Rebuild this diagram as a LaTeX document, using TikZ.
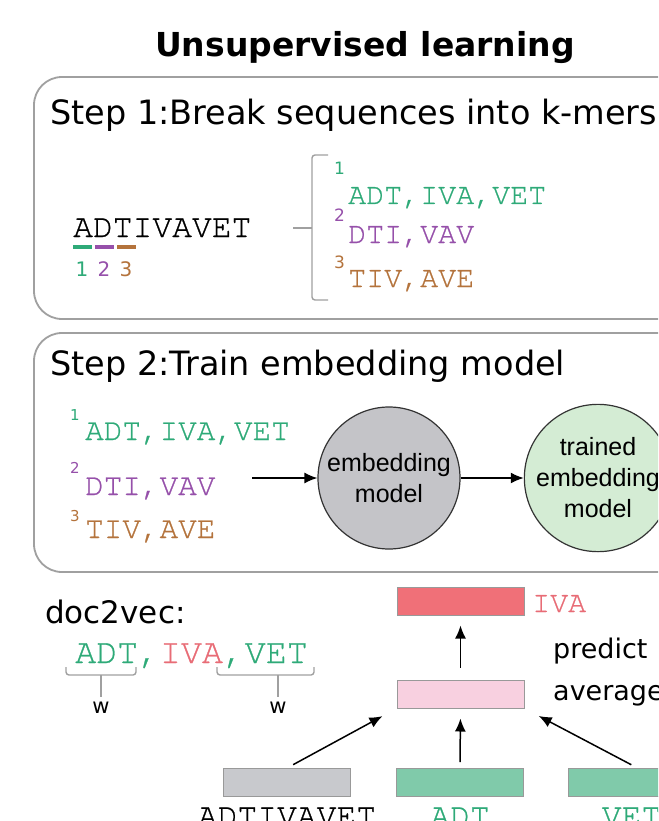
\documentclass[tikz,border=0pt]{standalone}
\usepackage{fontspec}
\setsansfont{DejaVu Sans}
\setmonofont{texgyrecursor-regular.otf}[FakeBold=0.8]
\newfontfamily\arialfont{Liberation Sans}
\usetikzlibrary{arrows.meta,positioning}
\definecolor{kgreen}{RGB}{46,170,120}
\definecolor{kpurple}{RGB}{150,80,170}
\definecolor{kbrown}{RGB}{180,115,60}
\definecolor{kred}{RGB}{232,108,118}
\definecolor{redbar}{RGB}{240,112,120}
\definecolor{pinkbar}{RGB}{248,208,224}
\definecolor{greenbar}{RGB}{128,202,170}
\definecolor{graybar}{RGB}{200,201,205}
\definecolor{embgray}{RGB}{196,196,200}
\definecolor{embgreen}{RGB}{212,236,212}
\definecolor{framegray}{RGB}{160,160,160}
\newcommand{\fsz}[1]{\fontsize{#1}{#1}\selectfont}

\begin{document}
\begin{tikzpicture}[x=1pt,y=-1pt,
  frame/.style={draw=framegray,line width=1.8pt,rounded corners=28pt},
  txt/.style={inner sep=0pt,anchor=base west},
  suptxt/.style={txt,font=\sffamily\fsz{17}},
  model/.style={circle,draw=black!80,line width=1.2pt,minimum size=142pt,inner sep=0pt,
    align=center,font=\arialfont\fontsize{25}{31}\selectfont},
  vec/.style={draw=black!40,line width=1pt,minimum width=127pt,minimum height=28pt,inner sep=0pt},
  arr/.style={-{Latex[length=13pt,width=11pt]},line width=1.5pt},
  brk/.style={draw=framegray,line width=1.4pt,rounded corners=3pt}]
  \clip (0,0) rectangle (658,821);
  \fill[white] (0,0) rectangle (658,821);

  \node[anchor=base,font=\sffamily\bfseries\fsz{33}] (title) at (365,57) {Unsupervised learning};
  \draw[frame] (34,77) rectangle (720,319);
  \draw[frame] (34,333) rectangle (720,572);

  \node[txt,font=\sffamily\fsz{33.5}] (s1) at (50,125) {Step 1:Break sequences into k-mers};
  \node[txt,font=\ttfamily\fsz{33}] (seq) at (73,237) {ADTIVAVET};
  \foreach \x/\c/\n in {73/kgreen/1, 95/kpurple/2, 117/kbrown/3}{
    \draw[\c,line width=4pt] (\x,247) -- ++(19,0);
    \node[anchor=base,inner sep=0pt,text=\c,font=\sffamily\fsz{20}] (d\n) at (\x+9,276) {\n};
  }
  \draw[brk] (328,155) -- (312,155) -- (312,300) -- (328,300);
  \draw[brk] (293,228) -- (312,228);
  \foreach \y/\u/\s/\c/\t in {204/175/1/kgreen/{ADT,IVA,VET}, 243/221/2/kpurple/{DTI,VAV}, 287/268/3/kbrown/{TIV,AVE}}{
    \node[suptxt,text=\c] (ka\s) at (334,\u) {\s};
    \node[txt,text=\c,font=\ttfamily\fsz{30}] (kb\s) at (348,\y) {\t};
  }

  \node[txt,font=\sffamily\fsz{33.5}] (s2) at (50,375) {Step 2:Train embedding model};
  \foreach \y/\u/\s/\c/\t in {440/420/1/kgreen/{ADT,IVA,VET}, 495/473/2/kpurple/{DTI,VAV}, 538/521/3/kbrown/{TIV,AVE}}{
    \node[suptxt,text=\c,font=\sffamily\fsz{15}] (ta\s) at (70,\u) {\s};
    \node[txt,text=\c,font=\ttfamily\fsz{31}] (tb\s) at (85,\y) {\t};
  }
  \coordinate (in) at (252,478);
  \node[model,fill=embgray] (emb) at (389,478) {embedding\\model};
  \node[model,fill=embgreen] (trn) at (598,478) {trained\\embedding\\model};
  \draw[arr] (in) -- (emb);
  \draw[arr] (emb) -- (trn);

  \node[txt,font=\sffamily\fsz{31}] (d2v) at (45,623) {doc2vec:};
  \node[txt,font=\ttfamily\fsz{35},text=kgreen] (wadt) at (75,663) {ADT};
  \node[txt,font=\ttfamily\fsz{35},text=kgreen] (wc1) at (wadt.base east) {,};
  \node[txt,font=\ttfamily\fsz{35},text=kred] (wiva) at (wc1.base east) {IVA};
  \node[txt,font=\ttfamily\fsz{35},text=kgreen] (wc2) at (wiva.base east) {,};
  \node[txt,font=\ttfamily\fsz{35},text=kgreen] (wvet) at (wc2.base east) {VET};
  \foreach \a/\b/\m/\n in {66/136/101/1, 217/314/278/2}{
    \draw[brk] (\a,667) -- (\a,675) -- (\b,675) -- (\b,667);
    \draw[brk] (\m,675) -- (\m,697);
    \node[anchor=base,inner sep=0pt,font=\sffamily\fsz{21}] (w\n) at (\m,713) {w};
  }

  \node[vec,fill=redbar] (out) at (460.5,601) {};
  \node[txt,font=\ttfamily\fsz{30},text=kred] (outl) at (532,612) {IVA};
  \node[vec,fill=pinkbar] (avg) at (460.5,694) {};
  \node[txt,font=\sffamily\fsz{27}] (pred) at (553,658) {predict};
  \node[txt,font=\sffamily\fsz{27}] (avgl) at (553,700) {average};
  \draw[arr,shorten <=12pt,shorten >=10pt] (avg) -- (out);

  \node[vec,fill=graybar] (dvec) at (287,782.5) {};
  \node[vec,fill=greenbar] (avec) at (460,782.5) {};
  \node[vec,fill=greenbar] (vvec) at (631.5,782.5) {};
  \node[anchor=base,inner sep=0pt,font=\ttfamily\fsz{33}] (dl) at (287,826) {ADTIVAVET};
  \node[anchor=base,inner sep=0pt,font=\ttfamily\fsz{33},text=kgreen] (al) at (460,826) {ADT};
  \node[anchor=base,inner sep=0pt,font=\ttfamily\fsz{33},text=kgreen] (vl) at (631.5,826) {VET};
  \draw[arr,shorten <=7pt,shorten >=16pt] (dvec.north) -- (avg.south west);
  \draw[arr,shorten <=6pt,shorten >=10pt] (avec.north) -- (avg.south);
  \draw[arr,shorten <=7pt,shorten >=16pt] ([xshift=6pt]vvec.north) -- (avg.south east);
\end{tikzpicture}
\end{document}
